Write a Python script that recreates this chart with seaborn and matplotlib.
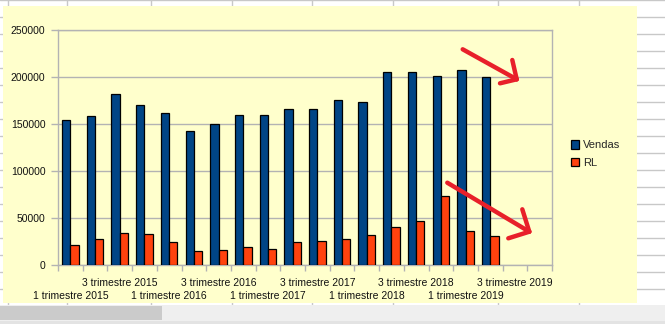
import numpy as np
import pandas as pd
import matplotlib
matplotlib.use("Agg")
import matplotlib.pyplot as plt
from matplotlib.lines import Line2D
from matplotlib.patches import Rectangle
from matplotlib.transforms import blended_transform_factory
import seaborn as sns

# ---- data ----
quarters = [f"{q} trimestre {y}" for y in range(2015, 2020) for q in (1, 2, 3, 4)]
vendas = [154000, 158300, 181700, 170000, 161500, 142400, 149800, 159300, 159300,
          166100, 166100, 175500, 173400, 205700, 205700, 201100, 207400, 200000,
          np.nan, np.nan]
rl = [21200, 28000, 34000, 32900, 24400, 14900, 15900, 19100, 17000,
      24400, 25500, 27700, 31900, 40400, 46800, 73400, 36200, 30500,
      np.nan, np.nan]
series_names = ["Vendas", "RL"]
colors = ["#004586", "#FF420E"]
yticks = [0, 50000, 100000, 150000, 200000, 250000]

df = pd.DataFrame({
    "Trimestre": quarters * 2,
    "Valor": vendas + rl,
    "Serie": [series_names[0]] * len(quarters) + [series_names[1]] * len(quarters),
})

W, H = 665, 324
def fx(x):
    return x / W
def fy(y):
    return 1 - y / H

sns.set_theme(style="white")
plt.rcParams["font.family"] = ["Liberation Sans", "DejaVu Sans"]

fig = plt.figure(figsize=(W / 100, H / 100), dpi=100, facecolor="white")

# spreadsheet background grid
grid_col = "#C8C8C8"
for k in range(0, 20):
    yy = 0.3 + 17 * k
    fig.add_artist(Line2D([0, 1], [fy(yy), fy(yy)], transform=fig.transFigure,
                          color=grid_col, lw=1, zorder=-3))
for xx in [8, 67, 151, 232, 312, 393, 498, 579]:
    fig.add_artist(Line2D([fx(xx), fx(xx)], [0, 1], transform=fig.transFigure,
                          color=grid_col, lw=1, zorder=-3))

# chart area
yellow = "#FFFFCC"
fig.add_artist(Rectangle((fx(3), fy(303)), fx(637 - 3), (303 - 6) / H,
                         transform=fig.transFigure, facecolor=yellow,
                         edgecolor="none", zorder=-2))
# scrollbar
fig.add_artist(Rectangle((0, fy(321)), 1, 16 / H, transform=fig.transFigure,
                         facecolor="#EFEFEF", edgecolor="none", zorder=-1))
fig.add_artist(Rectangle((0, fy(320)), fx(162), 14 / H, transform=fig.transFigure,
                         facecolor="#CBCBCB", edgecolor="none", zorder=-1))
fig.add_artist(Rectangle((0, 0), 1, 3 / H, transform=fig.transFigure,
                         facecolor="#E3E3E3", edgecolor="none", zorder=-1))

ax = fig.add_axes([fx(58), fy(265), fx(552 - 58), (265 - 30) / H])
ax.set_facecolor(yellow)

sns.barplot(data=df, x="Trimestre", y="Valor", hue="Serie", order=quarters,
            hue_order=series_names, palette=colors, width=0.67, gap=0,
            errorbar=None, edgecolor="black", linewidth=0.9, saturation=1,
            ax=ax, zorder=3)

ax.set_xlim(-0.5, len(quarters) - 0.5)
ax.set_ylim(0, 250000)
ax.set_yticks(yticks)
ax.set_yticklabels([str(v) for v in yticks])
ax.yaxis.grid(True, color="#B3B3B3", lw=1)
ax.set_axisbelow(True)
for s in ax.spines.values():
    s.set_color("#B3B3B3")
    s.set_linewidth(1)
    s.set_visible(True)

# category labels: every other quarter, staggered on two rows
ax.set_xticks(range(len(quarters)))
ax.set_xticklabels([""] * len(quarters))
ax.set_xticks(np.arange(-0.5, len(quarters), 1), minor=True)
ax.tick_params(axis="x", which="major", length=0)
ax.tick_params(axis="x", which="minor", length=4, color="#B3B3B3", width=1,
               direction="out", bottom=True)
ax.tick_params(axis="y", length=5, color="#B3B3B3", width=1, direction="out",
               left=True, labelsize=7.5, labelcolor="#111111", pad=4)
tr = blended_transform_factory(ax.transData, fig.transFigure)
for i, q in enumerate(quarters):
    if i % 4 == 2:
        ax.text(i, fy(282.7), q, transform=tr, ha="center", va="center",
                fontsize=7.5, color="#111111")
    elif i % 4 == 0:
        ax.text(i, fy(296.3), q, transform=tr, ha="center", va="center",
                fontsize=7.5, color="#111111")
ax.set_xlabel("")
ax.set_ylabel("")

leg = ax.get_legend()
if leg is not None:
    leg.remove()
handles = [Rectangle((0, 0), 1, 1, facecolor=c, edgecolor="black", lw=0.9) for c in colors]
fig.legend(handles, series_names, loc="center left",
           bbox_to_anchor=(fx(571), fy(154)), frameon=False, fontsize=8,
           handlelength=0.75, handleheight=0.75, handletextpad=0.3,
           labelspacing=0.65, borderpad=0, borderaxespad=0)

# hand-drawn red arrows
red = "#E8202A"
strokes = [
    [(462.7, 49.3), (516.7, 79.3)],
    [(512.3, 60.0), (516.7, 79.3)],
    [(500.0, 83.3), (516.7, 79.3)],
    [(447.3, 182.7), (529.3, 231.7)],
    [(522.3, 209.3), (529.3, 231.7)],
    [(508.3, 238.3), (529.3, 231.7)],
]
for (x0, y0), (x1, y1) in strokes:
    fig.add_artist(Line2D([fx(x0), fx(x1)], [fy(y0), fy(y1)], transform=fig.transFigure,
                          color=red, lw=3.2, solid_capstyle="round", zorder=10))

fig.savefig("out.png", dpi=100, facecolor="white")
